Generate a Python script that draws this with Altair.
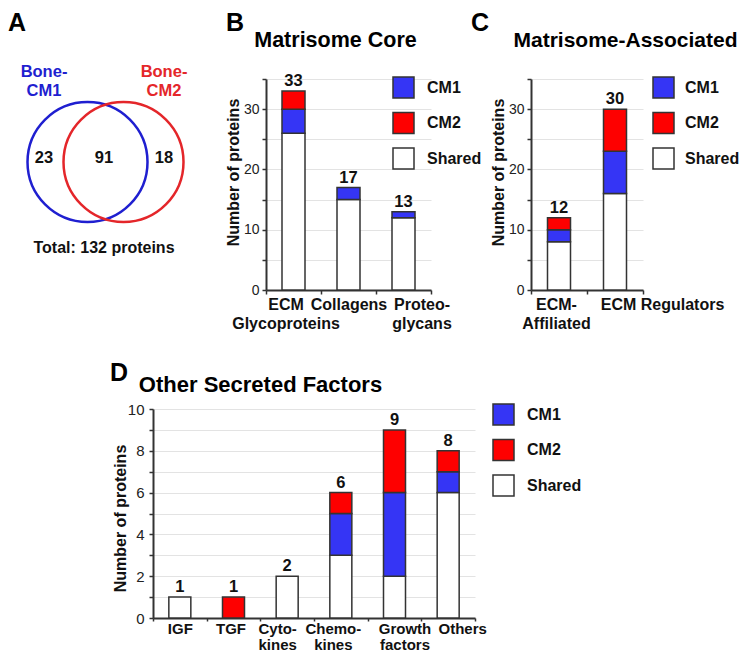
import json
import altair as alt
import pandas as pd

FONT = "Liberation Sans"
W, H = 731, 645

# ---------------- data ----------------
venn_sets = ["Bone-CM1", "Bone-CM2"]
venn_set_labels = ["Bone-\nCM1", "Bone-\nCM2"]
venn_colors = ["#1f1fd0", "#e4262a"]
venn_regions = ["CM1 only", "Both", "CM2 only"]
venn_counts = [23, 91, 18]
venn_total = 132

groups = ["CM1", "CM2", "Shared"]
group_colors = ["#3535f5", "#fe0000", "#ffffff"]

core_cats = ["ECM Glycoproteins", "Collagens", "Proteoglycans"]
core_labels = [["ECM", "Glycoproteins"], ["Collagens"], ["Proteo-", "glycans"]]
core_shared = [26, 15, 12]
core_cm1 = [4, 2, 1]
core_cm2 = [3, 0, 0]

assoc_cats = ["ECM-Affiliated", "ECM Regulators"]
assoc_labels = [["ECM-", "Affiliated"], ["ECM Regulators"]]
assoc_shared = [8, 16]
assoc_cm1 = [2, 7]
assoc_cm2 = [2, 7]

other_cats = ["IGF", "TGF", "Cytokines", "Chemokines", "Growth factors", "Others"]
other_labels = [["IGF"], ["TGF"], ["Cyto-", "kines"], ["Chemo-", "kines"],
                ["Growth", "factors"], ["Others"]]
other_shared = [1, 0, 2, 3, 2, 6]
other_cm1 = [0, 0, 0, 2, 4, 1]
other_cm2 = [0, 1, 0, 1, 3, 1]

# horizontal nudges of the tick labels (style, in px)
core_nudge = [-8, 0, 18]
assoc_nudge = [-3, 47]
other_nudge = [0, -3, -10, -8, 10, 14]


def long_df(cats, shared, cm1, cm2):
    rows = []
    for i, c in enumerate(cats):
        for g, vals, o in (("Shared", shared, 0), ("CM1", cm1, 1), ("CM2", cm2, 2)):
            rows.append({"Category": c, "Group": g, "Count": vals[i], "Order": o})
    return pd.DataFrame(rows)


def label_expr(cats, labels):
    expr = "datum.label"
    for c, l in zip(reversed(cats), reversed(labels)):
        expr = f"(datum.label === {json.dumps(c)} ? {json.dumps(l)} : {expr})"
    return expr


def offset_cond(cats, nudges):
    conds = [{"test": f"datum.label === {json.dumps(c)}", "value": n}
             for c, n in zip(cats, nudges) if n != 0]
    return {"condition": conds, "value": 0}


def panel(df, cats, labels, nudges, ymax, step_lab, xrange, yrange, legend_xy,
          title_y, bar_w, tick_font, ylab_pad, leg_offset=12,
          xlab_font=16, xlab_lh=19, xlab_pad=2, xtick=4):
    x_scale = alt.Scale(domain=cats, range=xrange, paddingInner=0, paddingOuter=0)
    y_scale = alt.Scale(domain=[0, ymax], range=yrange, nice=False, zero=True)
    minor = step_lab // 2 if step_lab > 2 else 1
    yvals = list(range(0, ymax + 1, minor))
    x_axis = alt.Axis(
        orient="bottom", offset=-(H - yrange[0]), title=None,
        labelExpr=label_expr(cats, labels), labelAngle=0, tickBand="extent",
        labelOffset=offset_cond(cats, nudges),
        labelFont=FONT, labelFontSize=xlab_font, labelFontWeight="bold",
        labelColor="#111", labelLineHeight=xlab_lh, labelPadding=xlab_pad,
        labelBaseline="top",
        tickSize=xtick, tickColor="#333", tickWidth=1.5,
        domainColor="#333", domainWidth=2, grid=False,
    )
    y_axis = alt.Axis(
        orient="left", offset=-xrange[0], values=yvals,
        labelExpr=f"datum.value % {step_lab} === 0 ? datum.label : ''",
        title="Number of proteins", titleFont=FONT, titleFontSize=16,
        titleFontWeight="bold", titleColor="#111", titleX=-33, titleY=title_y,
        titleBaseline="middle", titleAngle=270,
        labelFont=FONT, labelFontSize=tick_font, labelColor="#222",
        labelPadding=ylab_pad,
        tickSize=4, tickColor="#333", tickWidth=1.5,
        domainColor="#333", domainWidth=2,
        grid=True, gridColor="#e3e3e3", gridWidth=1,
    )
    legend = alt.Legend(
        title=None, orient="none", legendX=legend_xy[0], legendY=legend_xy[1],
        symbolType="square", symbolSize=441, symbolStrokeColor="#333",
        symbolStrokeWidth=1.5, symbolOpacity=1,
        labelFont=FONT, labelFontSize=16, labelFontWeight="bold", labelColor="#111",
        labelOffset=leg_offset, rowPadding=8.5, padding=0, direction="vertical",
    )
    bars = alt.Chart(df).transform_filter("datum.Count > 0").mark_bar(
        width=bar_w, stroke="#333", strokeWidth=1.5, opacity=1
    ).encode(
        x=alt.X("Category:N", scale=x_scale, axis=x_axis, sort=cats),
        y=alt.Y("Count:Q", stack="zero", scale=y_scale, axis=y_axis),
        color=alt.Color("Group:N", scale=alt.Scale(domain=groups, range=group_colors),
                        legend=legend),
        order=alt.Order("Order:Q"),
    )
    totals = alt.Chart(df).transform_aggregate(
        Total="sum(Count)", groupby=["Category"]
    ).mark_text(
        dy=-5, baseline="alphabetic", font=FONT, fontSize=16.5, fontWeight="bold",
        color="#111"
    ).encode(
        x=alt.X("Category:N", scale=x_scale, axis=None, sort=cats),
        y=alt.Y("Total:Q", scale=y_scale, axis=None),
        text="Total:Q",
    )
    return [bars, totals]


def note(text, x, y, size, align="left", color="#000", baseline="alphabetic"):
    return alt.Chart(alt.Data(values=[{"t": text}])).mark_text(
        align=align, baseline=baseline, font=FONT, fontSize=size,
        fontWeight="bold", color=color
    ).encode(x=alt.value(x), y=alt.value(y), text="t:N")


# ---------------- panel A: Venn ----------------
venn_circles = alt.Chart(pd.DataFrame({"Set": venn_sets})).mark_point(
    shape="circle", size=14400, filled=False, strokeWidth=2.5, opacity=1
).encode(
    x=alt.X("Set:N", scale=alt.Scale(type="point", domain=venn_sets,
                                     range=[79.5, 115.5], padding=0), axis=None),
    y=alt.value(154),
    stroke=alt.Stroke("Set:N", scale=alt.Scale(domain=venn_sets, range=venn_colors),
                      legend=None),
)
region_scale = alt.Scale(type="point", domain=venn_regions, range=[36, 156], padding=0)
venn_nums = alt.Chart(pd.DataFrame({"Region": venn_regions, "Count": venn_counts})).mark_text(
    font=FONT, fontSize=16.5, fontWeight="bold", color="#111", baseline="middle"
).encode(
    x=alt.X("Region:N", scale=region_scale, axis=None),
    y=alt.value(150),
    text="Count:Q",
)
venn_names = alt.Chart(pd.DataFrame({
    "Region": [venn_regions[0], venn_regions[2]],
    "Set": venn_sets,
    "Label": venn_set_labels,
})).mark_text(
    font=FONT, fontSize=16.5, fontWeight="bold", baseline="top", lineBreak="\n",
    lineHeight=19
).encode(
    x=alt.X("Region:N", scale=region_scale, axis=None),
    y=alt.value(56),
    text="Label:N",
    color=alt.Color("Set:N", scale=alt.Scale(domain=venn_sets, range=venn_colors),
                    legend=None),
)

# ---------------- panels B, C, D ----------------
pB = panel(long_df(core_cats, core_shared, core_cm1, core_cm2), core_cats, core_labels,
           core_nudge, 35, 10, [258, 423], [282, 71], (384, 68), 164, 23, 14, 3)
pC = panel(long_df(assoc_cats, assoc_shared, assoc_cm1, assoc_cm2), assoc_cats,
           assoc_labels, assoc_nudge, 35, 10, [523, 635], [282, 71], (644, 68), 164,
           23, 14, 3, leg_offset=10)
pD = panel(long_df(other_cats, other_shared, other_cm1, other_cm2), other_cats,
           other_labels, other_nudge, 10, 2, [145, 467], [610, 401], (484, 395), 510,
           22, 15, 5, xlab_font=15, xlab_lh=16, xlab_pad=0, xtick=3)

notes = [
    note("A", 0, 23, 25),
    note("B", 218, 23, 25),
    note("C", 463, 23, 25),
    note("D", 102, 373, 25),
    note("Matrisome Core", 327.5, 39, 21.5, align="center"),
    note("Matrisome-Associated", 617.5, 39, 21, align="center"),
    note("Other Secreted Factors", 252.5, 384, 22, align="center"),
    note(f"Total: {venn_total} proteins", 96, 245, 16, align="center", color="#111"),
]

chart = alt.layer(venn_circles, venn_nums, venn_names, *pB, *pC, *pD, *notes).resolve_scale(
    x="independent", y="independent", color="independent", stroke="independent"
).properties(
    width=W, height=H, autosize=alt.AutoSizeParams(type="none"), padding=0,
    background="white"
).configure_view(stroke=None)

chart.save("out.html", embed_options={"renderer": "svg", "actions": False})
